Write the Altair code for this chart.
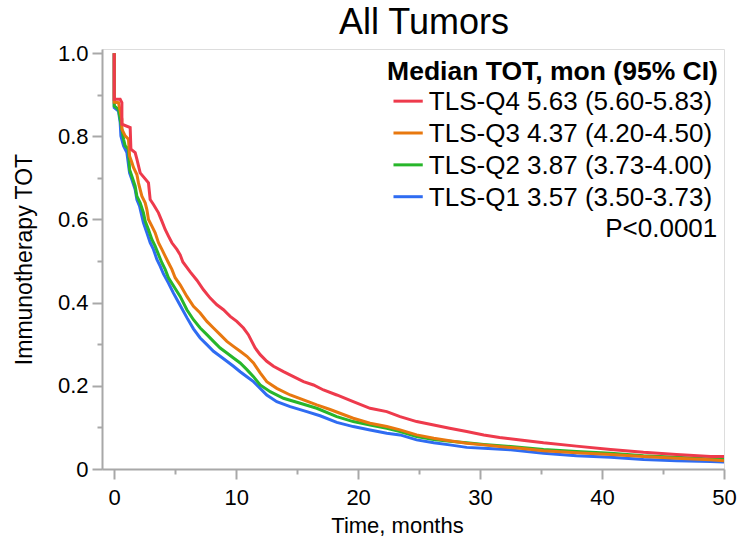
import altair as alt
import pandas as pd

# Time-on-treatment curves by TLS quartile (months, fraction still on therapy)
q1_t = [0, 0, 0.35, 0.49, 0.55, 0.77, 1.04, 1.26, 1.45, 1.72, 1.86, 2.08, 2.27, 2.4, 2.68,
        2.95, 3.22, 3.5, 3.77, 4.04, 4.45, 4.86, 5.27, 5.96, 6.5, 7.05, 7.6, 8.14, 8.69, 9.24,
        9.78, 10.33, 10.88, 11.42, 11.97, 12.51, 13.33, 14.43, 15.79, 16.88, 18.25, 19.6, 20.98,
        22.35, 23.44, 24.8, 26.2, 27.5, 28.9, 30.3, 32.5, 35.2, 37.9, 40.7, 43.4, 46.1, 48.9, 50]
q1_s = [1.0, 0.869, 0.861, 0.833, 0.801, 0.777, 0.761, 0.712, 0.696, 0.672, 0.648, 0.632, 0.608,
        0.592, 0.568, 0.544, 0.528, 0.504, 0.488, 0.469, 0.447, 0.423, 0.401, 0.364, 0.337, 0.315,
        0.299, 0.283, 0.271, 0.259, 0.247, 0.234, 0.222, 0.210, 0.194, 0.178, 0.162, 0.150, 0.138,
        0.128, 0.112, 0.102, 0.094, 0.086, 0.082, 0.070, 0.063, 0.058, 0.052, 0.050, 0.046, 0.038,
        0.032, 0.028, 0.023, 0.020, 0.018, 0.017]

q2_t = [0, 0, 0.35, 0.49, 0.63, 0.77, 0.9, 1.17, 1.26, 1.45, 1.72, 1.86, 2.13, 2.4, 2.54, 2.81,
        3.09, 3.36, 3.63, 3.91, 4.18, 4.45, 5.41, 5.96, 6.5, 7.05, 7.6, 8.14, 8.69, 9.24, 9.78,
        10.33, 10.88, 11.42, 11.97, 12.79, 13.88, 15.25, 16.61, 18.25, 19.6, 20.98, 22.35, 23.44,
        24.8, 26.2, 27.5, 28.9, 30.3, 32.5, 35.2, 37.9, 40.7, 43.4, 46.1, 48.9, 50]
q2_s = [1.0, 0.873, 0.865, 0.841, 0.817, 0.793, 0.777, 0.769, 0.720, 0.704, 0.680, 0.656, 0.640,
        0.616, 0.596, 0.576, 0.552, 0.536, 0.516, 0.496, 0.480, 0.460, 0.415, 0.383, 0.359, 0.339,
        0.323, 0.307, 0.291, 0.279, 0.267, 0.255, 0.239, 0.222, 0.202, 0.186, 0.170, 0.158, 0.146,
        0.126, 0.114, 0.106, 0.098, 0.090, 0.078, 0.071, 0.067, 0.063, 0.059, 0.054, 0.047, 0.042,
        0.038, 0.032, 0.028, 0.024, 0.024]

q3_t = [0, 0, 0.35, 0.49, 0.63, 0.63, 0.9, 1.17, 1.26, 1.45, 1.58, 1.86, 1.99, 2.13, 2.27, 2.54,
        2.68, 2.81, 3.09, 3.36, 3.63, 3.91, 4.18, 4.45, 4.73, 5.0, 5.41, 5.96, 6.5, 7.05, 7.6, 8.14,
        8.69, 9.24, 9.78, 10.33, 10.88, 11.42, 11.97, 12.51, 13.33, 14.43, 15.52, 16.61, 17.7, 19.6,
        20.98, 22.35, 23.44, 24.8, 26.2, 27.5, 28.9, 30.3, 31.6, 33.3, 35.2, 37.9, 40.7, 43.4, 46.1,
        48.9, 50]
q3_s = [1.0, 0.882, 0.881, 0.861, 0.841, 0.817, 0.801, 0.793, 0.753, 0.737, 0.725, 0.708, 0.688,
        0.672, 0.656, 0.640, 0.624, 0.600, 0.584, 0.568, 0.544, 0.528, 0.512, 0.496, 0.480, 0.460,
        0.443, 0.415, 0.391, 0.375, 0.355, 0.339, 0.323, 0.307, 0.295, 0.283, 0.271, 0.255, 0.231,
        0.210, 0.194, 0.178, 0.166, 0.154, 0.143, 0.122, 0.110, 0.102, 0.094, 0.082, 0.074, 0.068,
        0.062, 0.058, 0.054, 0.050, 0.044, 0.039, 0.035, 0.030, 0.026, 0.022, 0.020]

q4_t = [0, 0, 0.49, 0.63, 0.63, 1.31, 1.37, 1.72, 1.86, 2.13, 2.81, 2.95, 3.22, 3.63, 3.91, 4.18,
        4.45, 4.73, 5.14, 5.41, 5.63, 6.23, 6.78, 7.32, 7.87, 8.42, 8.96, 9.51, 10.05, 10.6, 11.0,
        11.28, 11.56, 11.97, 12.51, 13.06, 13.88, 14.7, 15.52, 16.34, 17.16, 18.25, 19.6, 20.98,
        22.35, 23.44, 24.8, 26.2, 27.5, 28.9, 30.3, 31.6, 33.3, 35.2, 37.9, 40.7, 43.4, 46.1, 48.9, 50]
q4_s = [1.0, 0.889, 0.889, 0.881, 0.829, 0.821, 0.769, 0.761, 0.745, 0.712, 0.688, 0.648, 0.636,
        0.616, 0.596, 0.576, 0.560, 0.544, 0.528, 0.515, 0.498, 0.474, 0.454, 0.431, 0.411, 0.395,
        0.383, 0.367, 0.355, 0.339, 0.323, 0.307, 0.291, 0.275, 0.259, 0.247, 0.234, 0.222, 0.210,
        0.202, 0.190, 0.178, 0.162, 0.146, 0.138, 0.126, 0.114, 0.106, 0.098, 0.090, 0.082, 0.076,
        0.070, 0.063, 0.055, 0.047, 0.040, 0.035, 0.030, 0.030]

# Legend entries, top to bottom
groups = ["TLS-Q4", "TLS-Q3", "TLS-Q2", "TLS-Q1"]
colors = ["#EE3A4C", "#E8780F", "#27B62A", "#2F6CF2"]
medians = [5.63, 4.37, 3.87, 3.57]
ci_low = [5.60, 4.20, 3.73, 3.50]
ci_high = [5.83, 4.50, 4.00, 3.73]
legend_title = "Median TOT, mon (95% CI)"
p_text = "P<0.0001"
chart_title = "All Tumors"

x_ticks = [0, 10, 20, 30, 40, 50]
x_minor = [5, 15, 25, 35, 45]
y_ticks = [0, 0.2, 0.4, 0.6, 0.8, 1.0]
y_minor = [0.1, 0.3, 0.5, 0.7, 0.9]

FONT = "Liberation Sans"
GREY = "#A8A8A8"

series = {"TLS-Q1": (q1_t, q1_s), "TLS-Q2": (q2_t, q2_s),
          "TLS-Q3": (q3_t, q3_s), "TLS-Q4": (q4_t, q4_s)}
color_of = dict(zip(groups, colors))

x_scale = alt.Scale(domain=[-1.0, 50.0], nice=False, zero=False)
y_scale = alt.Scale(domain=[0, 1.01], nice=False, zero=False)

axis_common = dict(domainColor=GREY, tickColor=GREY, domainWidth=2, tickWidth=2,
                   labelColor="black", titleColor="black", labelFont=FONT, titleFont=FONT,
                   labelFontSize=22, titleFontWeight="normal",
                   grid=False, labelFlush=False, labelOverlap=False)

x_major = alt.Axis(values=x_ticks, tickSize=10, labelPadding=8, titlePadding=7,
                   titleFontSize=22, titleX=295, orient="bottom", **axis_common)
y_major = alt.Axis(values=y_ticks, tickSize=10, labelPadding=4, titlePadding=21,
                   titleFontSize=23, orient="left",
                   labelExpr="datum.value == 0 ? '0' : format(datum.value, '.1f')",
                   **axis_common)

layers = []
# draw Q1 first so Q4 ends up on top
for i, g in enumerate(["TLS-Q1", "TLS-Q2", "TLS-Q3", "TLS-Q4"]):
    t, s = series[g]
    df = pd.DataFrame({"t": t, "s": s, "i": range(len(t))})
    first = i == 0
    layer = alt.Chart(df).mark_line(strokeWidth=3, color=color_of[g], clip=True).encode(
        x=alt.X("t:Q", scale=x_scale, title="Time, months" if first else None,
                axis=x_major if first else None),
        y=alt.Y("s:Q", scale=y_scale, title="Immunotherapy TOT" if first else None,
                axis=y_major if first else None),
        order="i:Q",
    )
    layers.append(layer)

# shorter unlabeled minor ticks
minor_df = pd.DataFrame({"t": x_minor, "s": y_minor})
minor = alt.Chart(minor_df).mark_point(opacity=0).encode(
    x=alt.X("t:Q", scale=x_scale, title=None,
            axis=alt.Axis(values=x_minor, tickSize=5, labels=False, domain=False,
                          orient="bottom", tickColor=GREY, tickWidth=2, grid=False)),
    y=alt.Y("s:Q", scale=y_scale, title=None,
            axis=alt.Axis(values=y_minor, tickSize=5, labels=False, domain=False,
                          orient="left", tickColor=GREY, tickWidth=2, grid=False)),
)
layers.append(minor)

# legend block in the upper right
row_base = 0.8634
row_step = 0.0766
legend_df = pd.DataFrame({
    "label": [f"{g} {m:.2f} ({lo:.2f}-{hi:.2f})" for g, m, lo, hi in zip(groups, medians, ci_low, ci_high)],
    "group": groups,
    "ty": [row_base - k * row_step for k in range(len(groups))],
})
legend_df["ly"] = legend_df["ty"] + 0.0212
legend_df["x0"] = 22.9
legend_df["x1"] = 25.3
legend_df["tx"] = 25.8

color_enc = alt.Color("group:N", scale=alt.Scale(domain=groups, range=colors), legend=None)

leg_lines = alt.Chart(legend_df).mark_rule(strokeWidth=3).encode(
    x=alt.X("x0:Q", scale=x_scale, axis=None),
    x2="x1:Q",
    y=alt.Y("ly:Q", scale=y_scale, axis=None),
    color=color_enc,
)
leg_text = alt.Chart(legend_df).mark_text(
    align="left", baseline="alphabetic", font=FONT, fontSize=26, color="black"
).encode(
    x=alt.X("tx:Q", scale=x_scale, axis=None),
    y=alt.Y("ty:Q", scale=y_scale, axis=None),
    text="label:N",
)

note_df = pd.DataFrame({"txt": [legend_title, p_text], "x": [49.5, 49.45],
                        "y": [0.9355, row_base - 4 * row_step + 0.0015]})
head_bold = alt.Chart(note_df.iloc[[0]]).mark_text(
    align="right", baseline="alphabetic", font=FONT, fontSize=26.5, fontWeight="bold", color="black"
).encode(
    x=alt.X("x:Q", scale=x_scale, axis=None),
    y=alt.Y("y:Q", scale=y_scale, axis=None),
    text="txt:N",
)
p_mark = alt.Chart(note_df.iloc[[1]]).mark_text(
    align="right", baseline="alphabetic", font=FONT, fontSize=26, color="black"
).encode(
    x=alt.X("x:Q", scale=x_scale, axis=None),
    y=alt.Y("y:Q", scale=y_scale, axis=None),
    text="txt:N",
)

# chart heading above the frame
title_df = pd.DataFrame({"txt": [chart_title], "x": [25.4], "y": [1.0455]})
title_mark = alt.Chart(title_df).mark_text(
    align="center", baseline="alphabetic", font=FONT, fontSize=36, color="black"
).encode(
    x=alt.X("x:Q", scale=x_scale, axis=None),
    y=alt.Y("y:Q", scale=y_scale, axis=None),
    text="txt:N",
)
layers += [leg_lines, leg_text, head_bold, p_mark, title_mark]

chart = alt.layer(*layers).resolve_axis(x="independent", y="independent").properties(
    width=622,
    height=420,
    autosize=alt.AutoSizeParams(type="none"),
    padding={"left": 102, "top": 49, "right": 17, "bottom": 77},
).configure_view(stroke=GREY, strokeWidth=1.5).configure(background="white")

chart.save("out.html", embed_options={"renderer": "svg", "actions": False})
